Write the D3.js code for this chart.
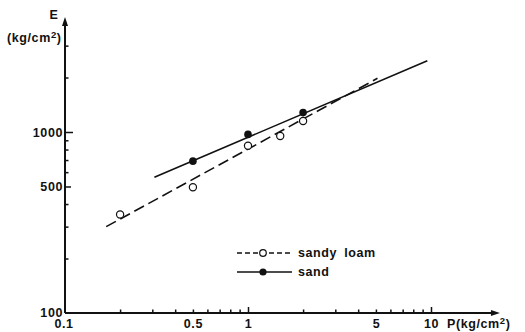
<!DOCTYPE html>
<html>
<head>
<meta charset="utf-8">
<script src="https://cdn.jsdelivr.net/npm/d3@7"></script>
<style>
  body { margin: 0; background: #fff; }
  text { font-family: "Liberation Sans", Arial, sans-serif; font-weight: bold; font-size: 12.5px; fill: #111; letter-spacing: 0.6px; }
</style>
</head>
<body>
<script>
// measured points
const sandyLoamP = [0.2, 0.5, 1, 1.5, 2];
const sandyLoamE = [350, 495, 840, 950, 1150];
const sandP = [0.5, 1, 2];
const sandE = [690, 970, 1280];

// fitted lines (end points)
const sandyLoamFitP = [0.168, 5.1];
const sandyLoamFitE = [300, 1980];
const sandFitP = [0.308, 9.55];
const sandFitE = [562, 2477];

// ticks
const xTickValues = [0.2, 0.3, 0.4, 0.5, 0.6, 0.7, 0.8, 0.9, 1, 2, 3, 4, 5, 6, 7, 8, 9, 10];
const xTickLabels = ["0.5", "1", "5", "10"];
const xMajor = [1, 10];
const yTickValues = [200, 300, 400, 500, 600, 700, 800, 900, 1000, 2000, 3000];
const yTickLabels = ["500", "1000"];

const W = 525, H = 332;

let svg = d3.select("body")
  .append("svg")
    .attr("width", W)
    .attr("height", H);

let x = d3.scaleLog().domain([0.1, 10]).range([65, 431]);
let y = d3.scaleLog().domain([100, 1000]).range([313, 132]);

// AXES

let xAxis = d3.axisBottom(x)
  .tickValues(xTickValues)
  .tickSize(-3)
  .tickPadding(6.5)
  .tickFormat(d => xTickLabels.includes(String(d)) ? String(d) : "");

let gx = svg.append("g")
  .attr("transform", `translate(0,${y(100)})`)
  .call(xAxis);
gx.select(".domain").remove();
gx.selectAll(".tick line")
  .attr("stroke", "#111")
  .attr("stroke-width", 1.5)
  .attr("y2", d => xMajor.includes(d) ? -6 : -3.5);
gx.selectAll(".tick text").attr("font-size", null).attr("font-family", null);

let yAxis = d3.axisLeft(y)
  .tickValues(yTickValues)
  .tickSize(-3)
  .tickPadding(2)
  .tickFormat(d => yTickLabels.includes(String(d)) ? String(d) : "");

let gy = svg.append("g")
  .attr("transform", `translate(${x(0.1)},0)`)
  .call(yAxis);
gy.select(".domain").remove();
gy.selectAll(".tick line")
  .attr("stroke", "#111")
  .attr("stroke-width", 1.5)
  .attr("x2", d => d == 1000 ? 8 : (d == 500 ? 6 : 3.5));
gy.selectAll(".tick text").attr("font-size", null).attr("font-family", null);

// axis lines with arrows
let x0 = x(0.1), y0 = y(100), xEnd = x(23.8), yEnd = y(4320);

svg.append("path")
  .attr("d", `M${x0},${y0}H${xEnd - 4}`)
  .attr("stroke", "#111")
  .attr("stroke-width", 2)
  .attr("fill", "none");
svg.append("path")
  .attr("d", `M${xEnd},${y0}L${xEnd - 9},${y0 - 3}L${xEnd - 9},${y0 + 3}Z`)
  .attr("fill", "#111");

svg.append("path")
  .attr("d", `M${x0},${y0}V${yEnd + 4}`)
  .attr("stroke", "#111")
  .attr("stroke-width", 2)
  .attr("fill", "none");
svg.append("path")
  .attr("d", `M${x0},${yEnd}L${x0 - 3},${yEnd + 9}L${x0 + 3},${yEnd + 9}Z`)
  .attr("fill", "#111");

// origin labels
svg.append("text")
  .attr("x", x0 - 2).attr("y", y0 + 4)
  .attr("text-anchor", "end")
  .text("100");
svg.append("text")
  .attr("x", x0 - 1).attr("y", y0 + 15)
  .attr("text-anchor", "middle")
  .text("0.1");

// axis titles
svg.append("text")
  .attr("x", 54).attr("y", 19)
  .attr("text-anchor", "middle")
  .text("E");
let ey = svg.append("text")
  .attr("x", 7).attr("y", 42);
ey.append("tspan").text("(kg/cm");
ey.append("tspan").attr("dy", -4).attr("font-size", 9.5).text("2");
ey.append("tspan").attr("dy", 4).text(")");

let px = svg.append("text")
  .attr("x", 447).attr("y", y0 + 15);
px.append("tspan").text("P(kg/cm");
px.append("tspan").attr("dy", -4).attr("font-size", 9.5).text("2");
px.append("tspan").attr("dy", 4).text(")");

// LINES

let line = d3.line()
  .x(d => x(d[0]))
  .y(d => y(d[1]));

svg.append("path")
  .attr("d", line(d3.zip(sandyLoamFitP, sandyLoamFitE)))
  .attr("stroke", "#111")
  .attr("stroke-width", 1.6)
  .attr("stroke-dasharray", "11,5")
  .attr("fill", "none");

svg.append("path")
  .attr("d", line(d3.zip(sandFitP, sandFitE)))
  .attr("stroke", "#111")
  .attr("stroke-width", 1.6)
  .attr("fill", "none");

// POINTS

svg.selectAll("circle.loam")
  .data(d3.zip(sandyLoamP, sandyLoamE))
  .enter().append("circle")
    .attr("class", "loam")
    .attr("cx", d => x(d[0]))
    .attr("cy", d => y(d[1]))
    .attr("r", 3.6)
    .attr("fill", "#fff")
    .attr("stroke", "#111")
    .attr("stroke-width", 1.2);

svg.selectAll("circle.sand")
  .data(d3.zip(sandP, sandE))
  .enter().append("circle")
    .attr("class", "sand")
    .attr("cx", d => x(d[0]))
    .attr("cy", d => y(d[1]))
    .attr("r", 3.8)
    .attr("fill", "#111");

// LEGEND

let lg = svg.append("g").attr("transform", "translate(237,253)");

lg.append("path")
  .attr("d", "M0,0H55")
  .attr("stroke", "#111")
  .attr("stroke-width", 1.6)
  .attr("stroke-dasharray", "5,3");
lg.append("circle")
  .attr("cx", 26).attr("cy", 0).attr("r", 3.3)
  .attr("fill", "#fff").attr("stroke", "#111").attr("stroke-width", 1.2);
lg.append("text")
  .attr("x", 61).attr("y", 4)
  .text("sandy loam")
  .attr("word-spacing", 3);

lg.append("path")
  .attr("d", "M0,19H55")
  .attr("stroke", "#111")
  .attr("stroke-width", 1.6);
lg.append("circle")
  .attr("cx", 26).attr("cy", 19).attr("r", 3.6)
  .attr("fill", "#111");
lg.append("text")
  .attr("x", 61).attr("y", 23)
  .text("sand");
</script>
</body>
</html>
